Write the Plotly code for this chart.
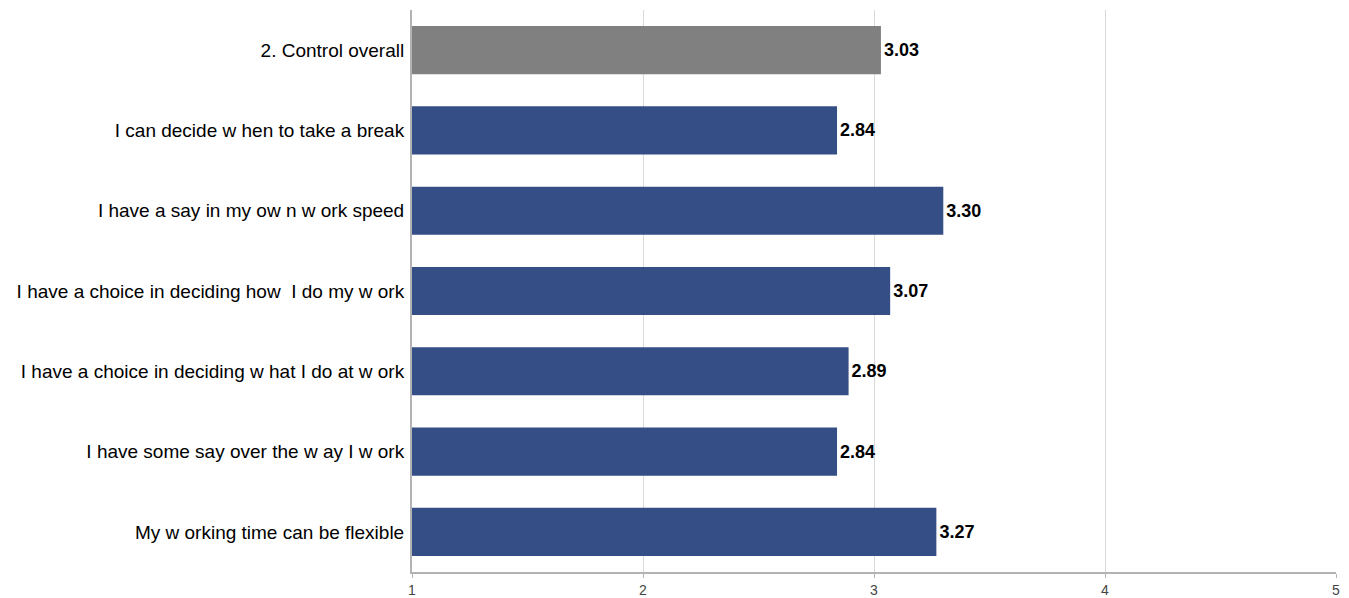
import plotly.graph_objects as go

categories = [
    "2. Control overall",
    "I can decide w hen to take a break",
    "I have a say in my ow n w ork speed",
    "I have a choice in deciding how  I do my w ork",
    "I have a choice in deciding w hat I do at w ork",
    "I have some say over the w ay I w ork",
    "My w orking time can be flexible",
]
values = [3.03, 2.84, 3.30, 3.07, 2.89, 2.84, 3.27]
bar_colors = ["#808080"] + ["#354E86"] * 6
tick_vals = [1, 2, 3, 4, 5]

fig = go.Figure()
fig.add_trace(go.Bar(
    y=categories,
    x=values,
    orientation="h",
    marker=dict(color=bar_colors, line=dict(width=0)),
    width=0.6,
    text=[f"{v:.2f}" for v in values],
    textposition="outside",
    textfont=dict(family="Liberation Sans, Arial", size=18, color="#000000"),
    texttemplate="<b>%{text}</b>",
    cliponaxis=False,
))

fig.update_layout(
    width=1349, height=598,
    margin=dict(l=412, r=13, t=10, b=26, autoexpand=False),
    paper_bgcolor="white", plot_bgcolor="white",
    showlegend=False,
    font=dict(family="Liberation Sans, Arial", color="#000000"),
    xaxis=dict(
        range=[1, 5], tickvals=tick_vals, ticktext=[str(t) for t in tick_vals],
        showgrid=True, gridcolor="#d9d9d9", gridwidth=1,
        showline=True, linecolor="#b3b3b3", linewidth=2,
        ticks="outside", ticklen=4, tickcolor="#b3b3b3",
        tickfont=dict(size=14, color="#444444"),
        zeroline=False, fixedrange=True, automargin=False,
    ),
    yaxis=dict(
        autorange="reversed", type="category",
        showline=True, linecolor="#b3b3b3", linewidth=2,
        showgrid=False, ticks="", ticklabelstandoff=2,
        tickfont=dict(size=19, color="#000000"), automargin=False,
    ),
)

fig.write_html("out.html")
